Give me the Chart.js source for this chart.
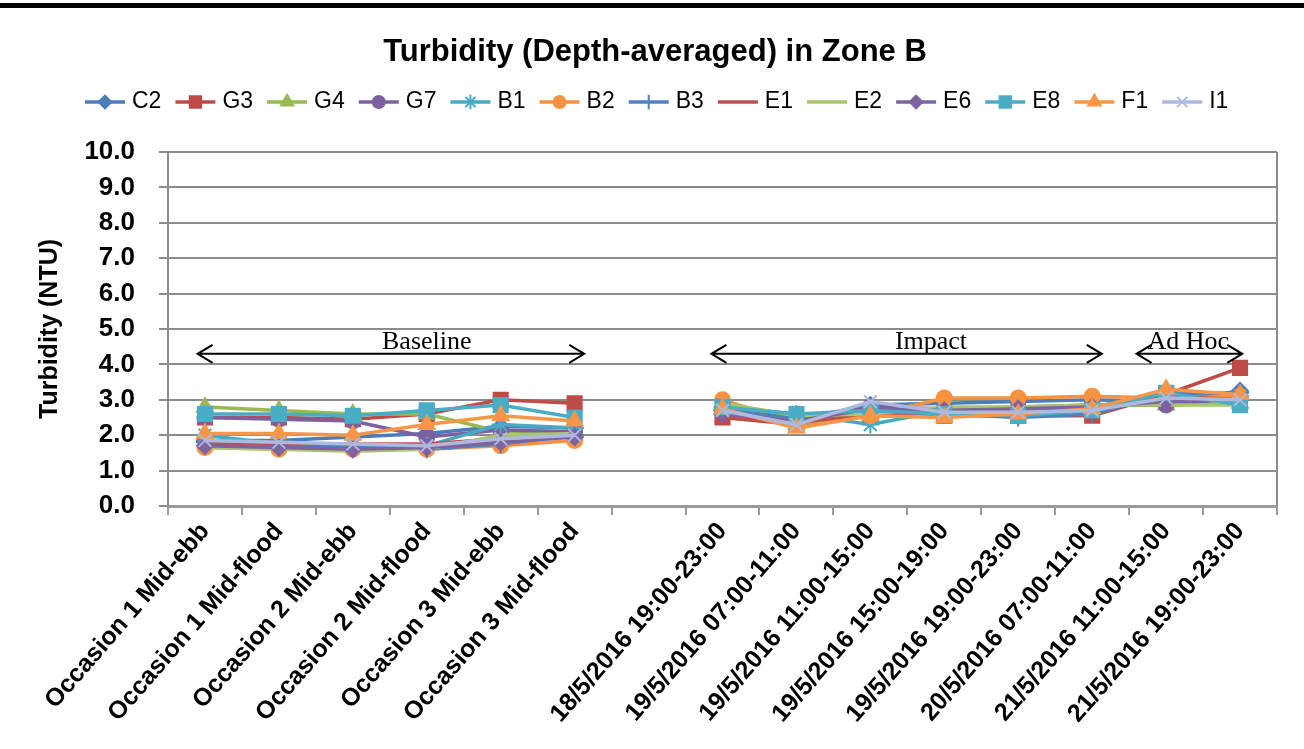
<!DOCTYPE html>
<html>
<head>
<meta charset="utf-8">
<script src="https://cdn.jsdelivr.net/npm/chart.js@4.4.0/dist/chart.umd.min.js"></script>
<style>
  html, body { margin: 0; padding: 0; background: #fff; }
  #wrap { position: relative; width: 1304px; height: 749px; }
  #barra { position: absolute; left: 0; top: 3px; width: 1304px; height: 5px; background: #000; }
  canvas { position: absolute; left: 0; top: 0; }
</style>
</head>
<body>
<div id="wrap">
  <canvas id="myLineChart" width="1304" height="749"></canvas>
  <div id="barra"></div>
</div>
<script>
// Categorías del eje X (la posición vacía separa Baseline de Impact)
const categorias = [
  "Occasion 1 Mid-ebb", "Occasion 1 Mid-flood", "Occasion 2 Mid-ebb",
  "Occasion 2 Mid-flood", "Occasion 3 Mid-ebb", "Occasion 3 Mid-flood", "",
  "18/5/2016 19:00-23:00", "19/5/2016 07:00-11:00", "19/5/2016 11:00-15:00",
  "19/5/2016 15:00-19:00", "19/5/2016 19:00-23:00", "20/5/2016 07:00-11:00",
  "21/5/2016 11:00-15:00", "21/5/2016 19:00-23:00"
];

// Turbidez promedio (NTU) por estación
const c2 = [1.85, 1.85, 1.95, 2.05, 2.25, 2.2, null, 2.7, 2.45, 2.85, 2.9, 2.95, 3.0, 2.95, 3.25];
const g3 = [2.5, 2.5, 2.45, 2.6, 3.0, 2.9, null, 2.5, 2.3, 2.55, 2.55, 2.55, 2.55, 3.15, 3.9];
const g4 = [2.8, 2.7, 2.6, 2.6, 2.1, 2.1, null, 2.85, 2.3, 2.6, 2.7, 2.75, 2.85, 2.85, 2.9];
const g7 = [2.5, 2.45, 2.4, 1.95, 2.15, 2.1, null, 2.65, 2.4, 2.8, 2.75, 2.8, 2.85, 2.85, 3.05];
const b1 = [2.0, 1.75, 1.7, 1.7, 2.3, 2.2, null, 2.8, 2.6, 2.3, 2.7, 2.7, 2.8, 3.2, 3.1];
const b2 = [1.65, 1.6, 1.6, 1.6, 1.7, 1.85, null, 3.0, 2.35, 2.55, 3.05, 3.05, 3.1, 3.05, 3.1];
const b3 = [1.8, 1.7, 1.65, 1.6, 1.75, 2.0, null, 2.7, 2.5, 2.7, 2.6, 2.5, 2.6, 3.15, 3.2];
const e1 = [1.75, 1.75, 1.75, 1.75, 1.9, 2.1, null, 2.55, 2.35, 2.6, 2.65, 2.7, 2.75, 3.1, 3.0];
const e2 = [1.65, 1.6, 1.55, 1.6, 2.0, 2.05, null, 2.9, 2.55, 2.6, 2.8, 2.8, 2.85, 2.85, 2.85];
const e6 = [1.7, 1.65, 1.6, 1.65, 1.8, 1.95, null, 2.6, 2.4, 2.75, 2.7, 2.75, 2.8, 2.95, 3.0];
const e8 = [2.6, 2.6, 2.55, 2.7, 2.85, 2.5, null, 2.8, 2.6, 2.7, 2.6, 2.55, 2.7, 3.2, 2.85];
const f1 = [2.05, 2.05, 2.0, 2.3, 2.55, 2.4, null, 2.75, 2.2, 2.55, 2.5, 2.6, 2.75, 3.3, 3.15];
const i1 = [1.85, 1.8, 1.75, 1.7, 1.9, 2.0, null, 2.7, 2.3, 2.95, 2.65, 2.65, 2.7, 3.05, 3.0];

const estaciones = ["C2", "G3", "G4", "G7", "B1", "B2", "B3", "E1", "E2", "E6", "E8", "F1", "I1"];
const series = [c2, g3, g4, g7, b1, b2, b3, e1, e2, e6, e8, f1, i1];

// Textos de los periodos
const periodos = ["Baseline", "Impact", "Ad Hoc"];
const titulo = "Turbidity (Depth-averaged) in Zone B";

// Estilo de cada serie (color, marcador, radio)
const estilos = [
  ["#4A7EBB", "rectRot", 8],
  ["#BE4B48", "rect", 10],
  ["#98B954", "triangle", 9],
  ["#7D60A0", "circle", 7.5],
  ["#46AAC5", "star", 9],
  ["#F69240", "circle", 7.5],
  ["#4F81BD", "cross", 9],
  ["#C0504D", "circle", 0],
  ["#A8C66C", "circle", 0],
  ["#7F63A1", "rectRot", 8],
  ["#4BACC6", "rect", 10],
  ["#F79646", "triangle", 9],
  ["#AEB9DE", "crossRot", 9],
];

const fuente = "'Liberation Sans', Arial, sans-serif";

// Plugin: título, leyenda tipo Excel, flechas de periodos y borde derecho
const extras = {
  id: "extras",
  afterDraw(chart) {
    const ctx = chart.ctx;
    const area = chart.chartArea;
    const x = chart.scales.x;
    const y = chart.scales.y;
    ctx.save();

    // Título
    ctx.fillStyle = "#000";
    ctx.font = "bold 31px " + fuente;
    ctx.textAlign = "center";
    ctx.textBaseline = "middle";
    ctx.fillText(titulo, 655, 52);

    // Borde derecho del área de trazado
    ctx.strokeStyle = "#8c8c8c";
    ctx.lineWidth = 2;
    ctx.beginPath();
    ctx.moveTo(area.right, area.top);
    ctx.lineTo(area.right, area.bottom);
    ctx.stroke();

    // Flechas dobles de periodos (en unidades de categoría)
    const rangos = [[-0.1, 5.13, 3.0], [6.85, 12.13, 9.82], [12.6, 14.03, 13.3]];
    const yf = y.getPixelForValue(4.3);
    ctx.strokeStyle = "#000";
    ctx.lineWidth = 2;
    ctx.font = "26px 'Liberation Serif', 'Times New Roman', serif";
    ctx.textBaseline = "alphabetic";
    rangos.forEach((r, i) => {
      const xa = x.getPixelForValue(r[0]);
      const xb = x.getPixelForValue(r[1]);
      ctx.beginPath();
      ctx.moveTo(xa, yf);
      ctx.lineTo(xb, yf);
      ctx.moveTo(xa + 15, yf - 9);
      ctx.lineTo(xa, yf);
      ctx.lineTo(xa + 15, yf + 9);
      ctx.moveTo(xb - 15, yf - 9);
      ctx.lineTo(xb, yf);
      ctx.lineTo(xb - 15, yf + 9);
      ctx.stroke();
      ctx.fillText(periodos[i], x.getPixelForValue(r[2]), yf - 5);
    });

    // Leyenda
    ctx.font = "23px " + fuente;
    ctx.textAlign = "left";
    ctx.textBaseline = "middle";
    let xl = 85;
    const yl = 102;
    chart.data.datasets.forEach((ds) => {
      ctx.strokeStyle = ds.borderColor;
      ctx.fillStyle = ds.borderColor;
      ctx.lineWidth = 3.5;
      ctx.beginPath();
      ctx.moveTo(xl, yl);
      ctx.lineTo(xl + 40, yl);
      ctx.stroke();
      if (ds.pointRadius > 0 && Chart.helpers && Chart.helpers.drawPoint) {
        ctx.lineWidth = ds.pointBorderWidth;
        Chart.helpers.drawPoint(ctx, {
          pointStyle: ds.pointStyle,
          radius: ds.pointRadius * 0.8,
          borderWidth: ds.pointBorderWidth,
          rotation: 0,
        }, xl + 20, yl);
      }
      ctx.fillStyle = "#000";
      ctx.fillText(ds.label, xl + 47, yl);
      xl += 47 + ctx.measureText(ds.label).width + 14;
    });
    ctx.restore();
  },
};

const datasets = series.map((valores, i) => ({
  label: estaciones[i],
  data: valores,
  borderColor: estilos[i][0],
  backgroundColor: estilos[i][0],
  pointStyle: estilos[i][1],
  pointRadius: estilos[i][2],
  pointHoverRadius: estilos[i][2],
  pointBorderWidth: 2,
  borderWidth: 3.5,
  tension: 0,
  spanGaps: false,
  order: series.length - i, // la última serie queda encima, como en Excel
}));

const ctx = document.getElementById("myLineChart").getContext("2d");
new Chart(ctx, {
  type: "line",
  data: { labels: categorias, datasets: datasets },
  options: {
    responsive: false,
    animation: false,
    layout: { padding: { top: 152, right: 27, bottom: 0, left: 0 } },
    plugins: {
      legend: { display: false },
      tooltip: { enabled: false },
      title: { display: false },
    },
    scales: {
      x: {
        offset: true,
        afterFit: (scale) => { scale.height = 243; },
        border: { color: "#9a9a9a", width: 3 },
        grid: { drawOnChartArea: false, drawTicks: true, tickLength: 9, color: "#9a9a9a", lineWidth: 2, offset: true },
        ticks: {
          color: "#000",
          autoSkip: false,
          minRotation: 49,
          maxRotation: 49,
          padding: 2,
          font: { family: fuente, size: 25, weight: "bold" },
        },
      },
      y: {
        min: 0,
        max: 10,
        afterFit: (scale) => { scale.width = 168; },
        border: { color: "#8c8c8c", width: 2 },
        grid: { color: "#8c8c8c", lineWidth: 2, tickLength: 9 },
        ticks: {
          stepSize: 1,
          color: "#000",
          padding: 24,
          font: { family: fuente, size: 26, weight: "bold" },
          callback: (v) => v.toFixed(1),
        },
        title: {
          display: true,
          text: "Turbidity (NTU)",
          color: "#000",
          font: { family: fuente, size: 25, weight: "bold" },
          padding: { top: 35, bottom: 0 },
        },
      },
    },
  },
  plugins: [extras],
});
</script>
</body>
</html>
